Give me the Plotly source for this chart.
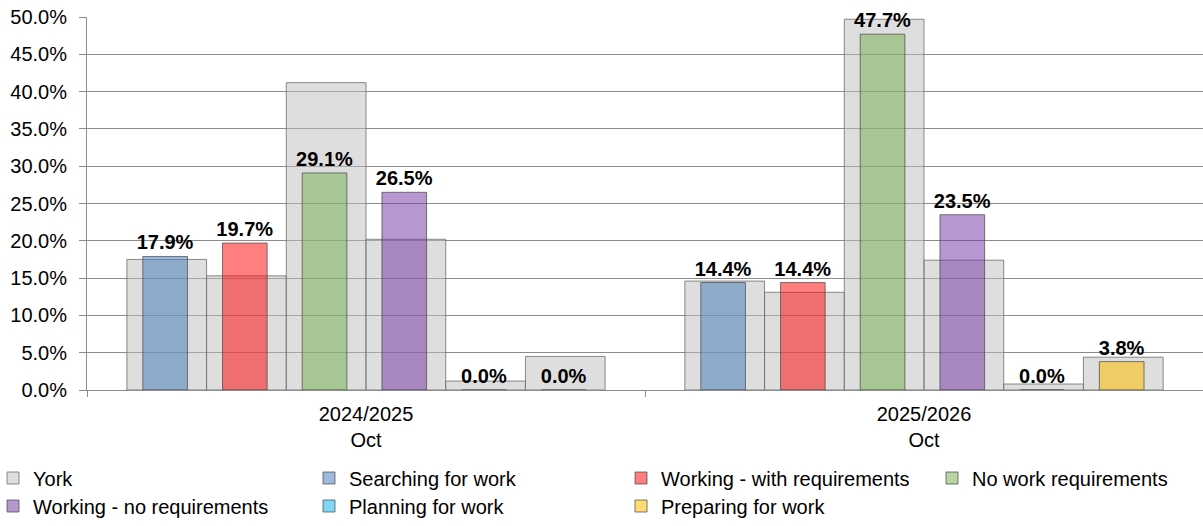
import plotly.graph_objects as go

periods = ["2024/2025<br>Oct", "2025/2026<br>Oct"]
series = ["Searching for work", "Working - with requirements", "No work requirements",
          "Working - no requirements", "Planning for work", "Preparing for work"]

york = [[17.5, 15.3, 41.2, 20.2, 1.2, 4.5],
        [14.6, 13.1, 49.7, 17.4, 0.8, 4.4]]

values = {
    "Searching for work": [17.9, 14.4],
    "Working - with requirements": [19.7, 14.4],
    "No work requirements": [29.1, 47.7],
    "Working - no requirements": [26.5, 23.5],
    "Planning for work": [0.0, 0.0],
    "Preparing for work": [0.0, 3.8],
}

colors = {
    "Searching for work": "rgba(79,129,189,0.55)",
    "Working - with requirements": "rgba(255,0,0,0.5)",
    "No work requirements": "rgba(112,173,71,0.5)",
    "Working - no requirements": "rgba(112,48,160,0.5)",
    "Planning for work": "rgba(0,176,240,0.5)",
    "Preparing for work": "rgba(255,192,0,0.55)",
}

FONT = "Liberation Sans, Arial, sans-serif"
FS = 20
n = len(series)
gap = n + 1

# page geometry (body margin is removed by the post script, so page px == figure px)
W, H = 1203, 526
plot_left, plot_right, plot_top, plot_bottom = 87, 1203, 17, 390
L = plot_left
T = plot_top
R = W - plot_right
B = H - plot_bottom
PW = plot_right - plot_left
PH = plot_bottom - plot_top

def px_x(p):
    return (p - plot_left) / PW

def px_y(p):
    return (plot_bottom - p) / PH

def xpos(g, i):
    return g * gap + i

fig = go.Figure()

# York background bars
fig.add_trace(go.Bar(
    name="York",
    x=[xpos(g, i) for g in range(len(periods)) for i in range(n)],
    y=[york[g][i] / 100 for g in range(len(periods)) for i in range(n)],
    width=1.0, offset=-0.5,
    marker=dict(color="rgba(190,190,190,0.5)", line=dict(color="rgba(110,110,110,0.8)", width=1)),
    legend="legend",
    hoverinfo="skip",
))

legend_names = ["legend2", "legend3", "legend4", "legend5", "legend6", "legend7"]
for i, s in enumerate(series):
    fig.add_trace(go.Bar(
        name=s,
        x=[xpos(g, i) for g in range(len(periods))],
        y=[v / 100 for v in values[s]],
        width=0.56, offset=-0.3,
        marker=dict(color=colors[s], line=dict(color="rgba(70,70,70,0.7)", width=1)),
        text=[f"{v:.1f}%" for v in values[s]],
        textposition="outside",
        textfont=dict(family=FONT, size=FS, color="black", weight="bold"),
        constraintext="none",
        cliponaxis=False,
        textangle=0,
        legend=legend_names[i],
    ))

xmin = -1
xmax = xpos(len(periods) - 1, n - 1) + 1
centers = [(xpos(g, 0) + xpos(g, n - 1)) / 2 for g in range(len(periods))]
dividers = [xmin] + [xpos(g, n - 1) + 1 for g in range(len(periods) - 1)] + [xmax]

# legend item positions: text start x (px) and row centre y (px)
leg_text_x = [24, 340, 652, 963, 24, 340, 652]
leg_row_y = [478, 478, 478, 478, 506, 506, 506]

legends = {}
for k, (tx, ty) in enumerate(zip(leg_text_x, leg_row_y)):
    key = "legend" if k == 0 else f"legend{k + 1}"
    legends[key] = dict(
        orientation="h", x=px_x(tx - 31), xanchor="left", y=px_y(ty), yanchor="middle",
        font=dict(family=FONT, size=FS, color="black"),
        bgcolor="rgba(0,0,0,0)", itemclick=False, itemdoubleclick=False,
    )

fig.update_layout(
    width=W, height=H,
    margin=dict(l=L, r=max(R, 0), t=T, b=B, autoexpand=False),
    barmode="overlay",
    plot_bgcolor="white", paper_bgcolor="white",
    font=dict(family=FONT, size=FS, color="black"),
    hovermode=False,
    xaxis=dict(
        range=[xmin, xmax], tickvals=centers, ticktext=periods,
        ticks="", showgrid=False, zeroline=False,
        showline=True, linecolor="#8c8c8c", linewidth=1,
        tickfont=dict(family=FONT, size=FS, color="black"),
        ticklabelstandoff=6,
    ),
    xaxis2=dict(
        range=[xmin, xmax], overlaying="x", anchor="y", side="bottom",
        tickvals=dividers, showticklabels=False, ticks="outside", ticklen=6,
        tickcolor="#8c8c8c", showgrid=False, zeroline=False, showline=False,
    ),
    yaxis=dict(
        range=[0, 0.5], dtick=0.05, tickformat=".1%",
        showgrid=True, gridcolor="#8c8c8c", gridwidth=1,
        zeroline=False, showline=True, linecolor="#8c8c8c", linewidth=1,
        ticks="outside", ticklen=7, tickcolor="#8c8c8c",
        tickfont=dict(family=FONT, size=FS, color="black"),
        ticklabelstandoff=8, ticklabeloverflow="allow",
    ),
    showlegend=True,
    **legends,
)

fig.add_trace(go.Scatter(x=[None], y=[None], xaxis="x2", yaxis="y", showlegend=False, hoverinfo="skip"))

fig.write_html(
    "out.html",
    config={"displayModeBar": False, "staticPlot": True},
    post_script="document.body.style.margin='0px';document.body.style.overflow='hidden';",
)
